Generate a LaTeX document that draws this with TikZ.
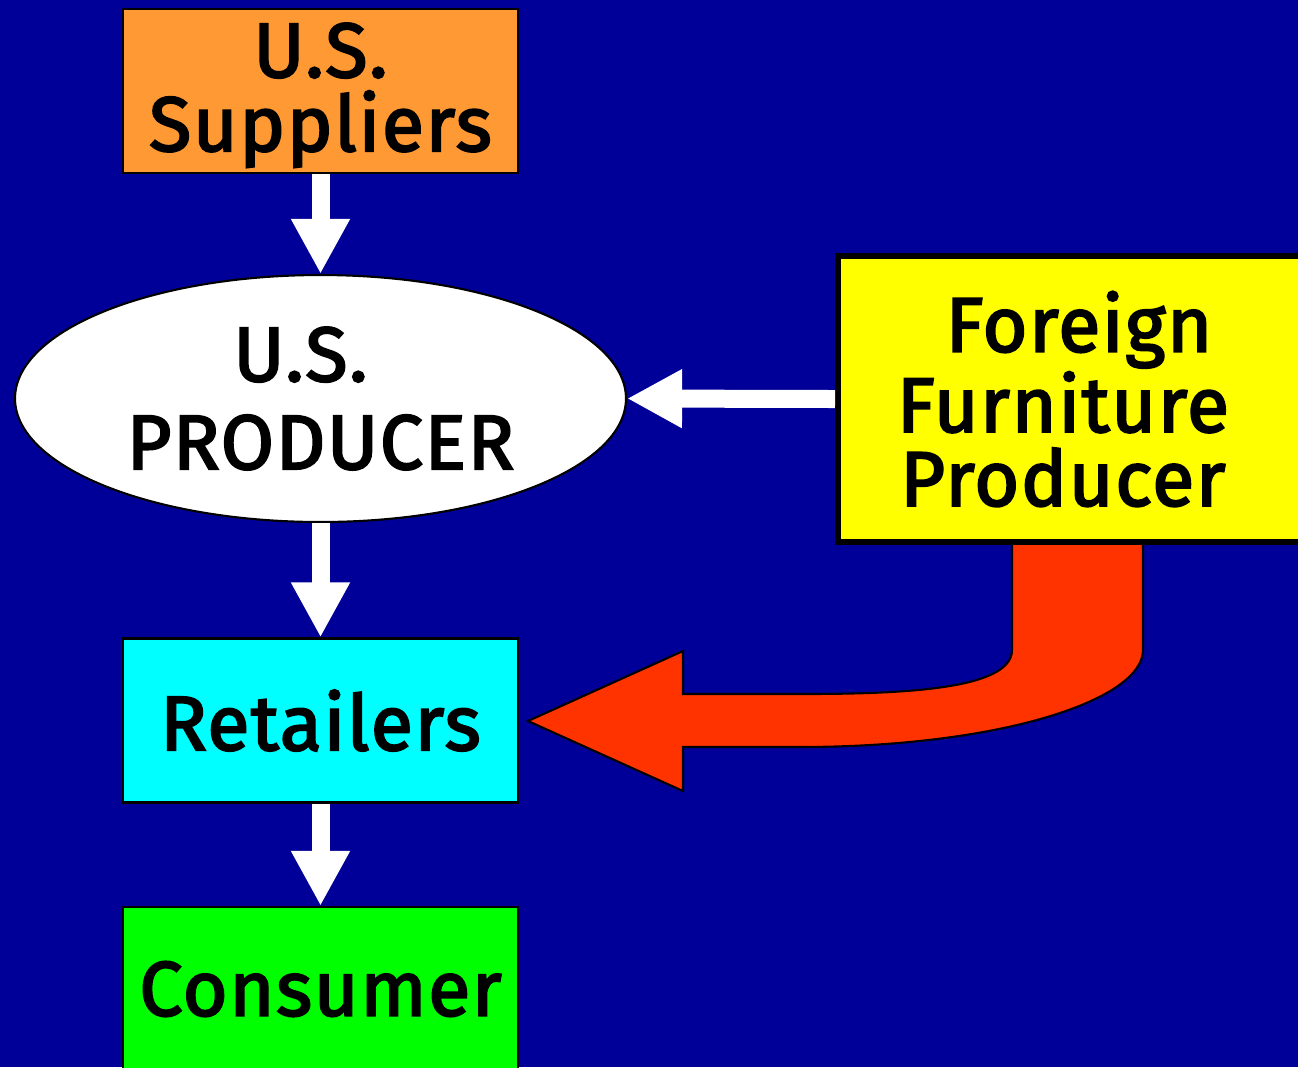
\documentclass[tikz,border=0pt]{standalone}
\usepackage{fontspec}
\newfontfamily\slidefont[FakeBold=2.6, LetterSpace=2]{Fira Sans}
\usetikzlibrary{arrows.meta,positioning,shapes.geometric}
\definecolor{slide}{RGB}{0,0,153}
\definecolor{supply}{RGB}{255,153,51}
\definecolor{retail}{RGB}{0,255,255}
\definecolor{buyer}{RGB}{0,255,0}
\definecolor{import}{RGB}{255,255,0}
\definecolor{surge}{RGB}{255,51,0}

\begin{document}
\begin{tikzpicture}[>={Triangle[width=0.55cm,length=0.55cm]},
  every node/.append style={align=center,font=\slidefont\fontsize{22}{21}\selectfont},
  box/.style={draw, line width=0.6pt, minimum width=3.95cm, minimum height=1.64cm, inner sep=0pt},
  flow/.style={->, white, line width=0.18cm}]
\clip (0,0) rectangle (12.98,-10.67);
\fill[slide] (0,0) rectangle (12.98,-10.67);

% imports pushing into retail
\filldraw[fill=surge, draw=black, line width=0.6pt]
  (10.12,-5.42) -- (10.12,-6.50) .. controls (10.12,-6.90) and (9.00,-6.94) .. (8.00,-6.94)
  -- (6.83,-6.94) -- (6.83,-6.51) -- (5.28,-7.21) -- (6.83,-7.91) -- (6.83,-7.47) -- (8.00,-7.47)
  .. controls (10.00,-7.47) and (11.43,-7.00) .. (11.43,-6.50) -- (11.43,-5.42) -- cycle;

\node [box, fill=supply, text depth=0.08cm] (S) at (3.205,-0.91) {U.S.\\Suppliers};
\node [draw, ellipse, fill=white, line width=0.6pt, minimum width=6.11cm, minimum height=2.47cm, inner sep=0pt]
  (P) at (3.205,-3.985) {U.S.\hspace*{0.4cm}\\[4pt]PRODUCER};
\node [box, fill=import, line width=1.7pt, minimum width=5cm, minimum height=2.86cm]
  (F) at (10.88,-3.99) {\mbox{\hspace*{0.32cm}Foreign\hspace*{0.5cm}}\\\mbox{Furniture\hspace*{0.5cm}}\\\mbox{Producer\hspace*{0.5cm}}};
\node [box, fill=retail] (R) at (3.205,-7.205) {Retailers};
\node [box, fill=buyer] (C) at (3.205,-9.89) {Consumer};

\draw[flow] (S) -- (P);
\draw[flow] (F.west) -- (P.east);
\draw[flow] (P) -- (R);
\draw[flow] (R) -- (C);
\end{tikzpicture}
\end{document}
